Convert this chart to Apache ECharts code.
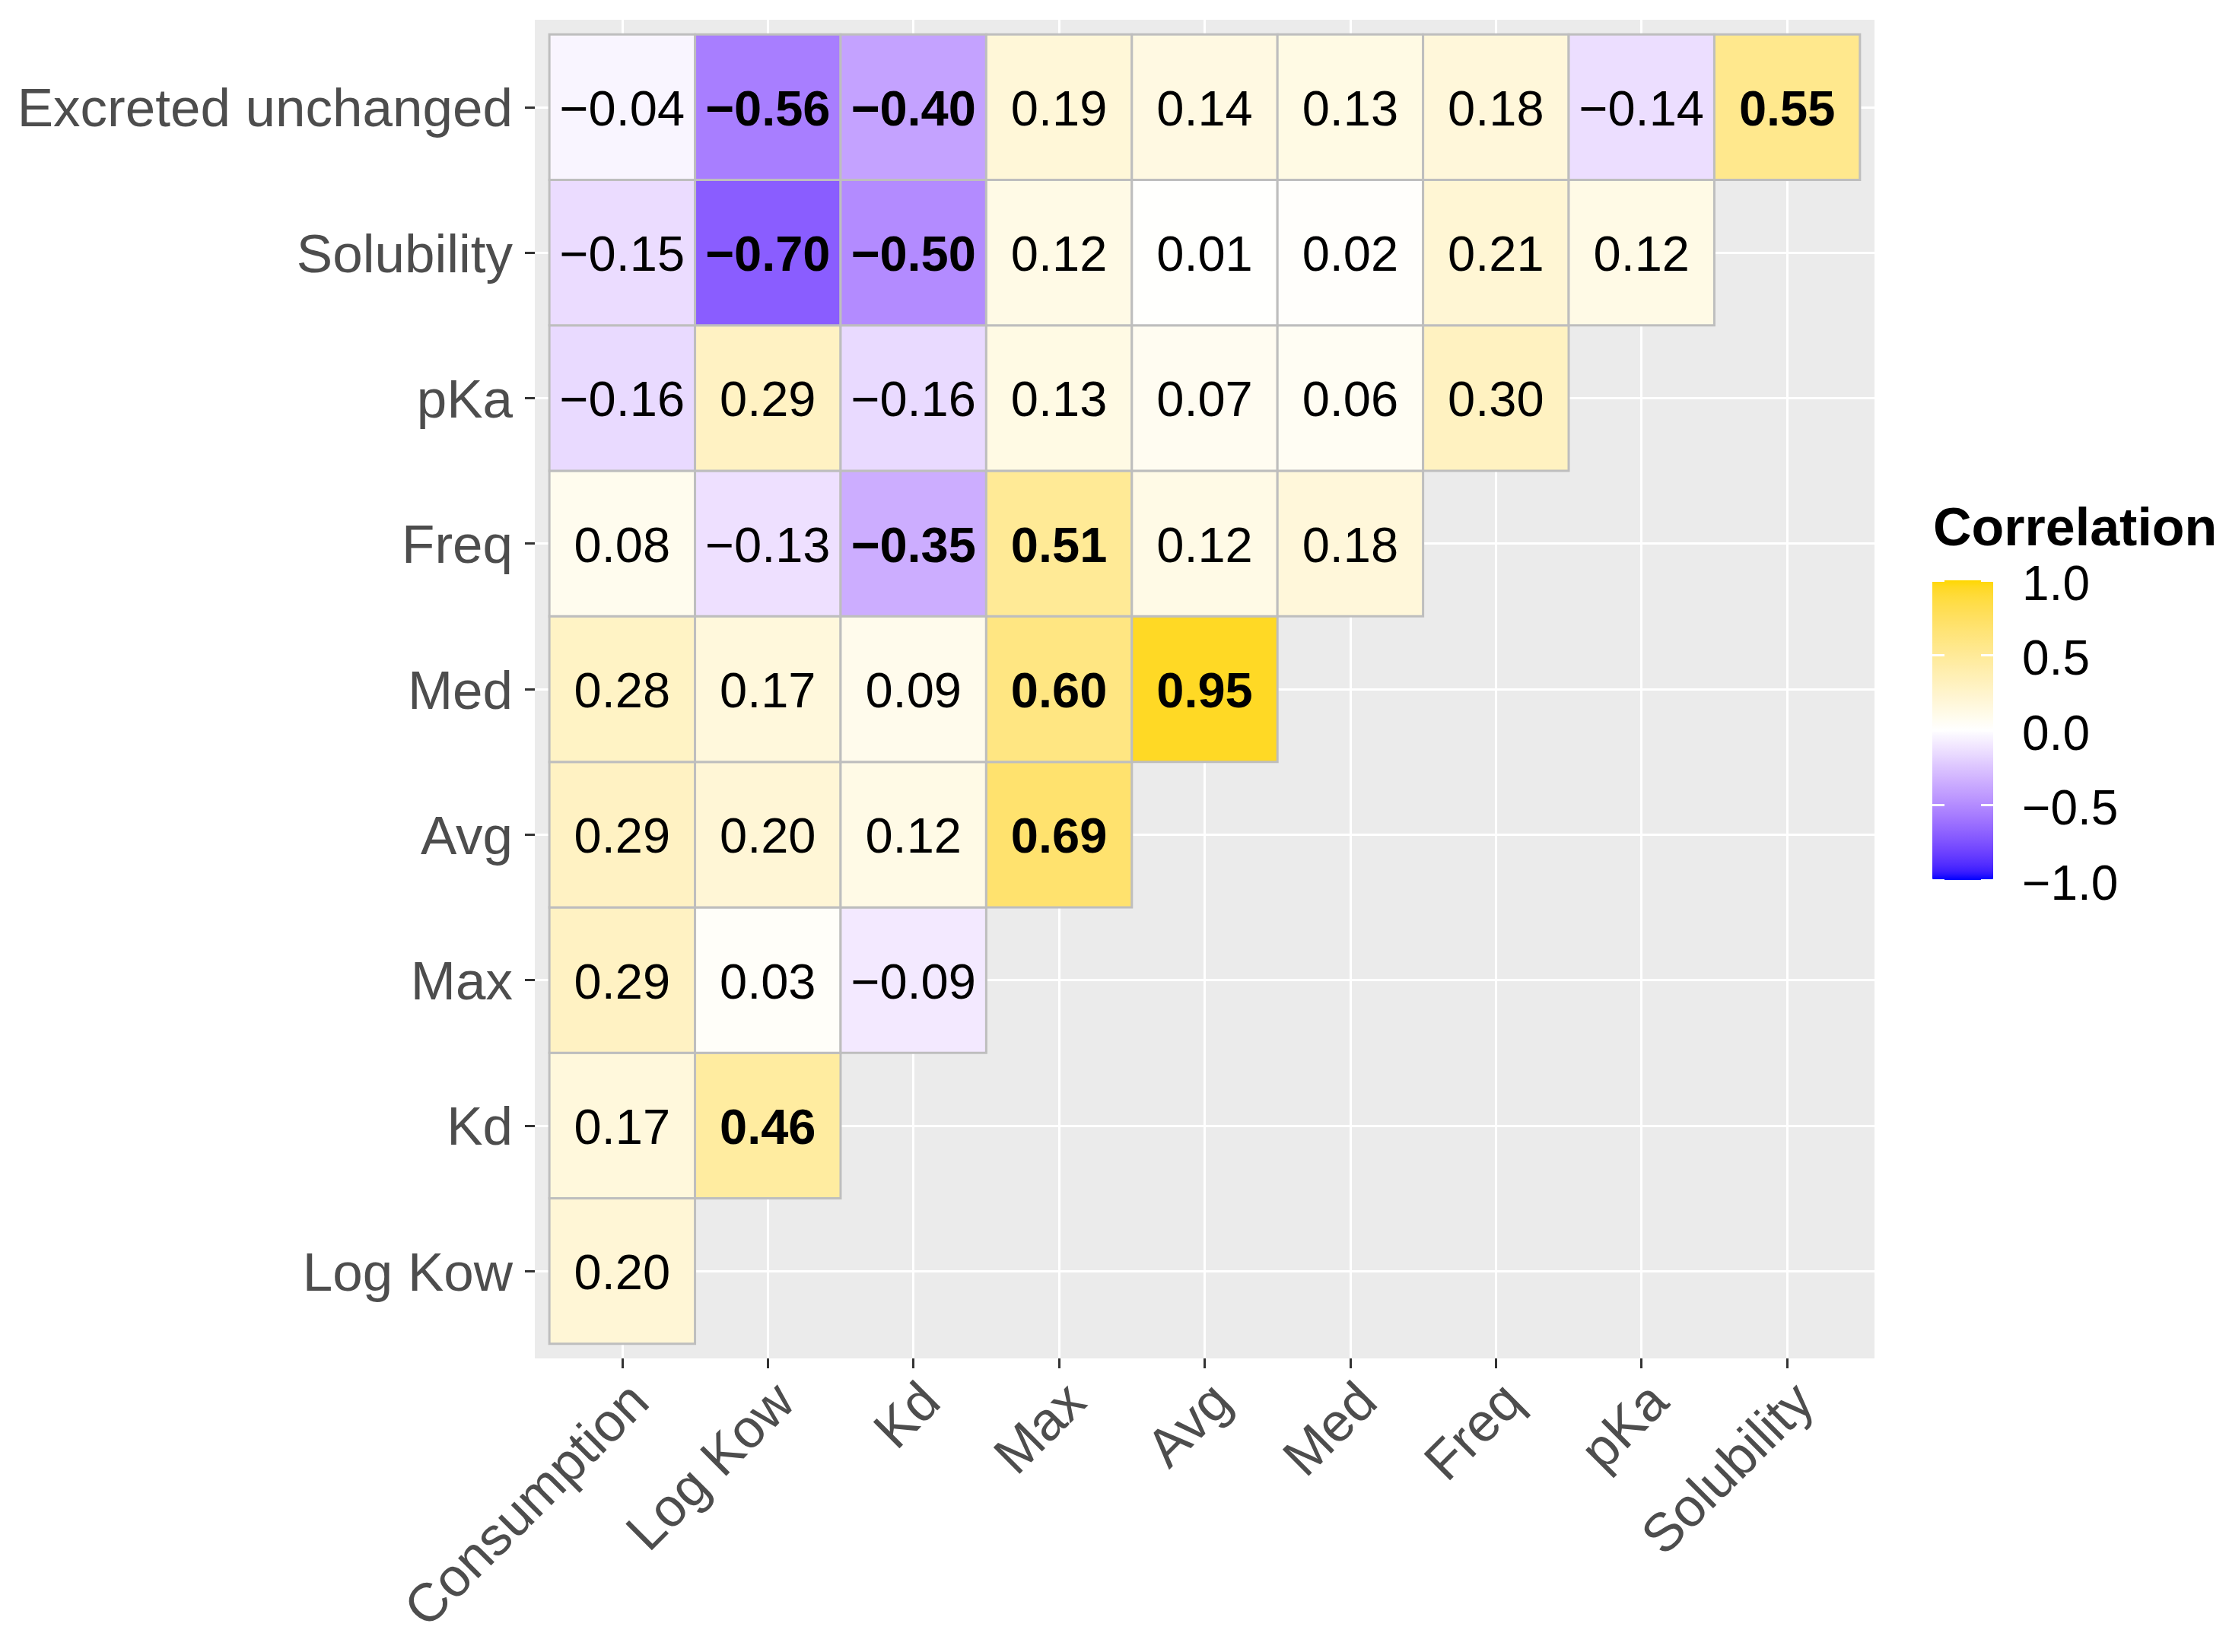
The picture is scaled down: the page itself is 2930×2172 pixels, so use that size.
<!DOCTYPE html>
<html>
<head>
<meta charset="utf-8">
<script src="https://cdn.jsdelivr.net/npm/echarts@6/dist/echarts.min.js"></script>
<style>
html,body{margin:0;padding:0;background:#fff;}
#chart{width:2930px;height:2172px;}
</style>
</head>
<body>
<div id="chart"></div>
<script>
// ---------- data ----------
const xCategories = ['Consumption','Log Kow','Kd','Max','Avg','Med','Freq','pKa','Solubility'];
// bottom to top
const yCategories = ['Log Kow','Kd','Max','Avg','Med','Freq','pKa','Solubility','Excreted unchanged'];

const rowLogKow     = [0.20];
const rowKd         = [0.17, 0.46];
const rowMax        = [0.29, 0.03, -0.09];
const rowAvg        = [0.29, 0.20, 0.12, 0.69];
const rowMed        = [0.28, 0.17, 0.09, 0.60, 0.95];
const rowFreq       = [0.08, -0.13, -0.35, 0.51, 0.12, 0.18];
const rowPKa        = [-0.16, 0.29, -0.16, 0.13, 0.07, 0.06, 0.30];
const rowSolubility = [-0.15, -0.70, -0.50, 0.12, 0.01, 0.02, 0.21, 0.12];
const rowExcreted   = [-0.04, -0.56, -0.40, 0.19, 0.14, 0.13, 0.18, -0.14, 0.55];

const legendTicks = [-1, -0.5, 0, 0.5, 1];
const boldThreshold = 0.35;

// ---------- colour scale (Lab interpolation, like gradient2) ----------
const lowColor = '#0000FF', midColor = '#FFFFFF', highColor = '#FFD700';
function s2l(c){c/=255;return c<=0.04045?c/12.92:Math.pow((c+0.055)/1.055,2.4);}
function l2s(c){c=c<=0.0031308?12.92*c:1.055*Math.pow(c,1/2.4)-0.055;return Math.round(Math.max(0,Math.min(1,c))*255);}
const Xn=0.95047,Yn=1,Zn=1.08883,eps=216/24389,kap=24389/27;
function hex2lab(h){
  const r=s2l(parseInt(h.substr(1,2),16)),g=s2l(parseInt(h.substr(3,2),16)),b=s2l(parseInt(h.substr(5,2),16));
  const X=(0.4124564*r+0.3575761*g+0.1804375*b)/Xn,Y=(0.2126729*r+0.7151522*g+0.0721750*b)/Yn,Z=(0.0193339*r+0.1191920*g+0.9503041*b)/Zn;
  const f=t=>t>eps?Math.cbrt(t):(kap*t+16)/116;
  const fx=f(X),fy=f(Y),fz=f(Z);
  return [116*fy-16,500*(fx-fy),200*(fy-fz)];
}
function lab2hex(L,a,bb){
  const fy=(L+16)/116,fx=fy+a/500,fz=fy-bb/200;
  const fi=t=>{const t3=t*t*t;return t3>eps?t3:(116*t-16)/kap;};
  const X=Xn*fi(fx),Y=Yn*fi(fy),Z=Zn*fi(fz);
  const r=3.2404542*X-1.5371385*Y-0.4985314*Z,g=-0.9692660*X+1.8760108*Y+0.0415560*Z,b=0.0556434*X-0.2040259*Y+1.0572252*Z;
  const hx=v=>('0'+l2s(v).toString(16)).slice(-2);
  return '#'+hx(r)+hx(g)+hx(b);
}
function mixLab(c1,c2,t){const a=hex2lab(c1),b=hex2lab(c2);return lab2hex(a[0]+(b[0]-a[0])*t,a[1]+(b[1]-a[1])*t,a[2]+(b[2]-a[2])*t);}
const colorStops=[];
for(let i=0;i<=40;i++){
  const v=-1+i*0.05;
  colorStops.push(v<0?mixLab(midColor,lowColor,-v):mixLab(midColor,highColor,v));
}

// ---------- build series data ----------
const rows=[rowLogKow,rowKd,rowMax,rowAvg,rowMed,rowFreq,rowPKa,rowSolubility,rowExcreted];
const cells=[];
rows.forEach((row,yi)=>row.forEach((v,xi)=>cells.push([xi,yi,v])));

const idx=xCategories.map((_,i)=>i);
const FONT='"Liberation Sans", Arial, Helvetica, sans-serif';
const fmt=v=>(v<0?'\u2212':'')+Math.abs(v).toFixed(2);

const chart=echarts.init(document.getElementById('chart'),null,{renderer:'canvas'});
chart.setOption({
  backgroundColor:'#ffffff',
  animation:false,
  title:{text:'Correlation',left:2541,top:663,padding:0,
    textStyle:{fontFamily:FONT,fontSize:70,fontWeight:'bold',color:'#000'}},
  grid:[
    {left:703,top:26,width:1761,height:1760,show:true,backgroundColor:'#EBEBEB',borderWidth:0},
    {left:2540,top:763,width:80,height:394,show:false}
  ],
  xAxis:[
    {type:'value',gridIndex:0,min:-0.6,max:8.6,position:'bottom',
      axisLine:{show:false,onZero:false},
      axisTick:{show:true,customValues:idx,length:13,lineStyle:{color:'#333333',width:3}},
      axisLabel:{customValues:idx,formatter:v=>xCategories[Math.round(v)],rotate:45,margin:22,
        align:'right',verticalAlign:'top',fontFamily:FONT,fontSize:71,color:'#4D4D4D'},
      splitLine:{show:true,lineStyle:{color:'#FFFFFF',width:3}}},
    {type:'value',gridIndex:1,min:0,max:1,show:false}
  ],
  yAxis:[
    {type:'value',gridIndex:0,min:-0.6,max:8.6,position:'left',
      axisLine:{show:false,onZero:false},
      axisTick:{show:true,customValues:idx,length:13,lineStyle:{color:'#333333',width:3}},
      axisLabel:{customValues:idx,formatter:v=>yCategories[Math.round(v)],margin:29,
        verticalAlign:'top',lineHeight:12,
        fontFamily:FONT,fontSize:71,color:'#4D4D4D'},
      splitLine:{show:true,lineStyle:{color:'#FFFFFF',width:3}}},
    {type:'value',gridIndex:1,min:-1,max:1,position:'right',z:10,
      axisLine:{show:false,onZero:false},
      axisTick:{show:true,inside:true,customValues:legendTicks,length:16,lineStyle:{color:'#FFFFFF',width:3}},
      axisLabel:{customValues:legendTicks,formatter:v=>(v<0?'\u2212':'')+Math.abs(v).toFixed(1),margin:38,
        verticalAlign:'top',lineHeight:16,fontFamily:FONT,fontSize:64,color:'#000'},
      splitLine:{show:false}},
    {type:'value',gridIndex:1,min:-1,max:1,position:'left',z:10,
      axisLine:{show:false,onZero:false},
      axisTick:{show:true,inside:true,customValues:legendTicks,length:16,lineStyle:{color:'#FFFFFF',width:3}},
      axisLabel:{show:false},splitLine:{show:false}}
  ],
  visualMap:{type:'continuous',min:-1,max:1,dimension:2,seriesIndex:0,
    inRange:{color:colorStops},calculable:false,orient:'vertical',
    left:2540,top:763,itemWidth:80,itemHeight:394,padding:0,text:null,showLabel:false},
  series:[{
    type:'custom',xAxisIndex:0,yAxisIndex:0,
    data:cells,
    encode:{x:0,y:1},
    renderItem:function(params,api){
      const x=api.value(0),y=api.value(1),v=api.value(2);
      const tl=api.coord([x-0.5,y+0.5]),br=api.coord([x+0.5,y-0.5]),c=api.coord([x,y]);
      return {type:'group',children:[
        {type:'rect',shape:{x:tl[0],y:tl[1],width:br[0]-tl[0],height:br[1]-tl[1]},
          style:{fill:api.visual('color'),stroke:'#BEBEBE',lineWidth:3}},
        {type:'text',x:c[0],y:c[1]+6,
          style:{text:fmt(v),fill:'#000',fontFamily:FONT,fontSize:65,
            fontWeight:Math.abs(v)>=boldThreshold?'bold':'normal',
            align:'center',verticalAlign:'middle'}}
      ]};
    }
  }]
});
</script>
</body>
</html>
